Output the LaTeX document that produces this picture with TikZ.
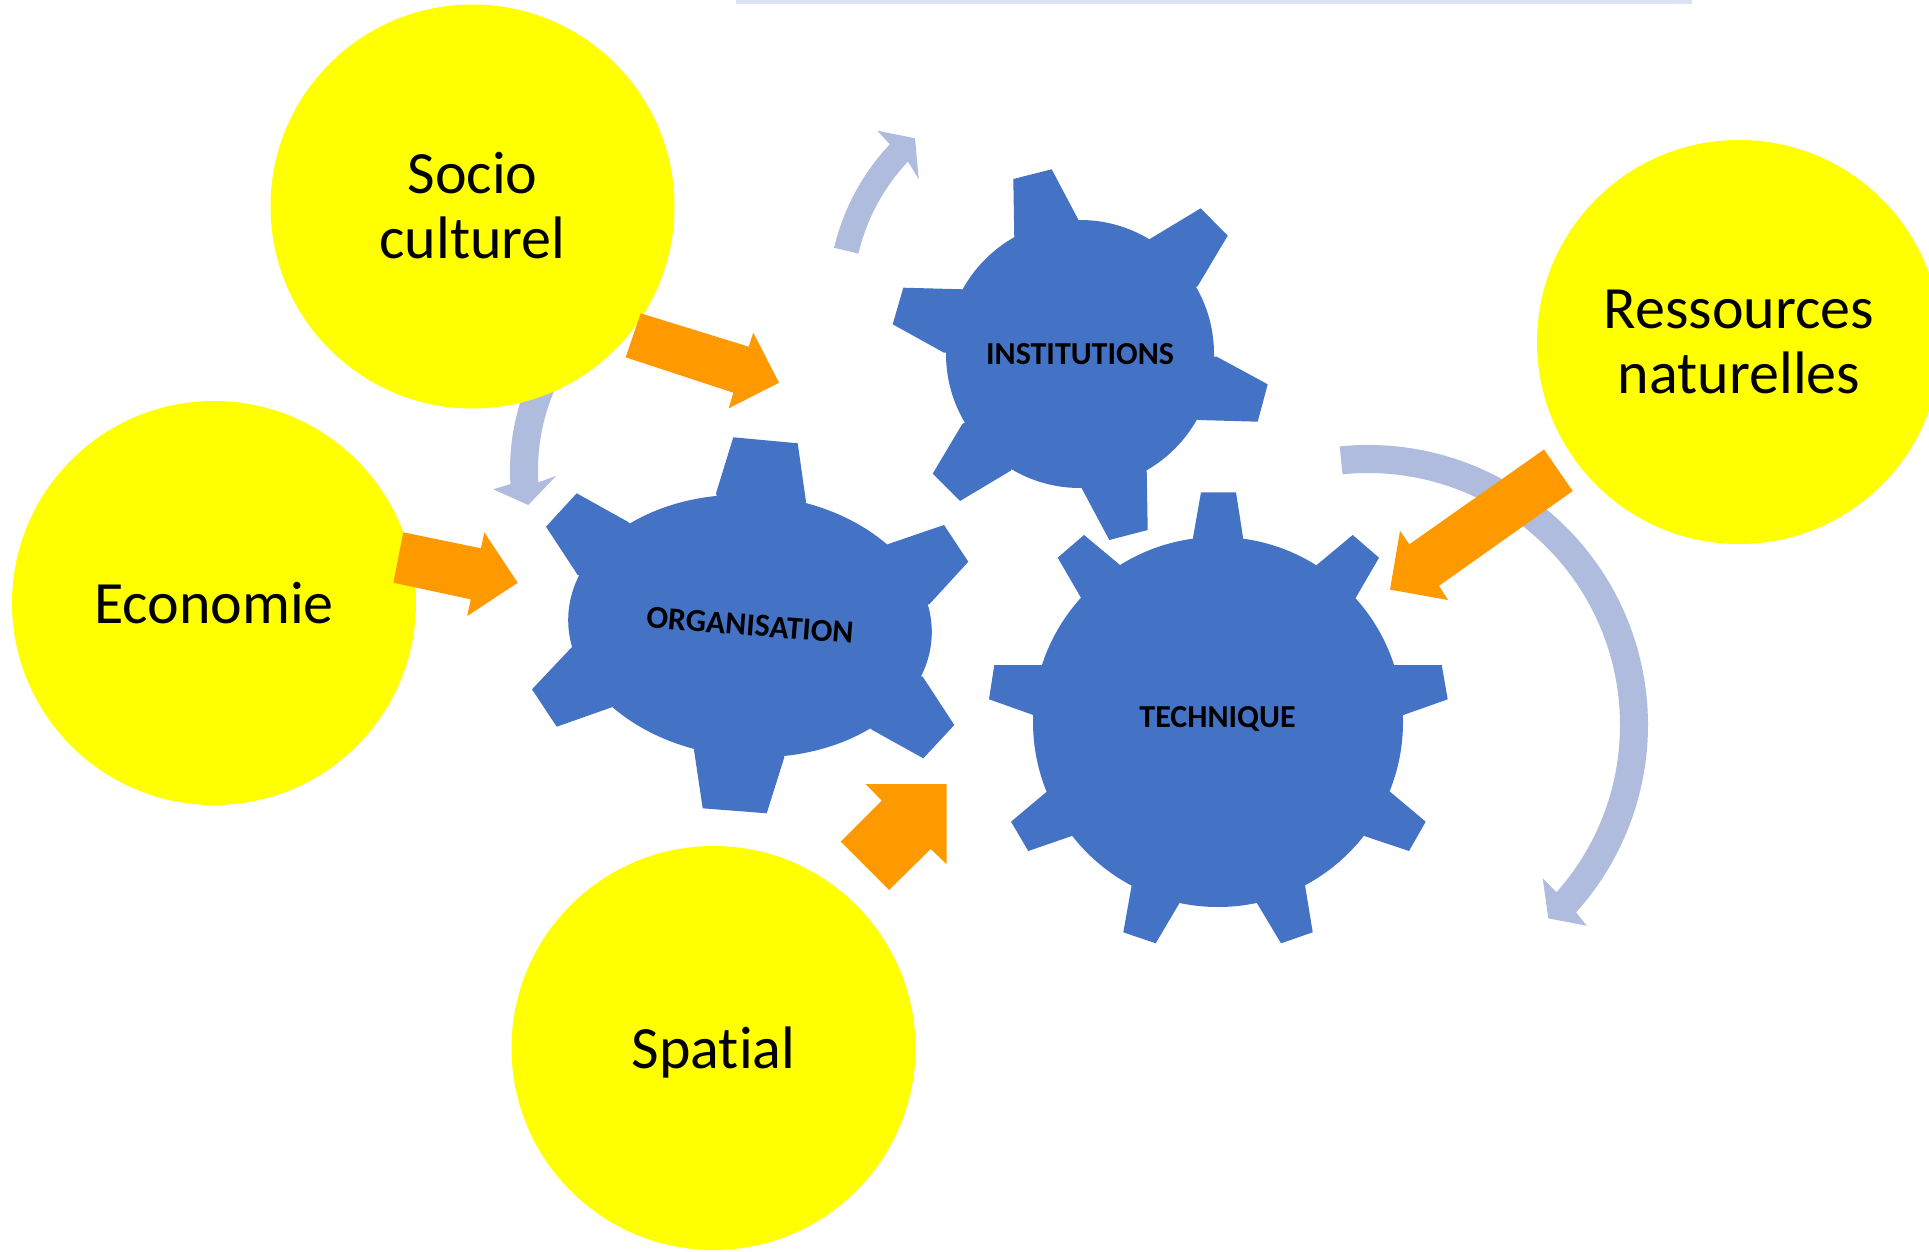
\documentclass[tikz,border=0pt]{standalone}
\usepackage{fontspec}
\setmainfont{Carlito}[Ligatures=NoCommon]
\usetikzlibrary{calc}
\definecolor{bubbleyellow}{RGB}{255,255,0}
\definecolor{arroworange}{RGB}{255,153,0}
\definecolor{gearblue}{RGB}{68,114,196}
\definecolor{cyclearc}{RGB}{175,188,222}
\definecolor{topline}{RGB}{218,227,243}
\begin{document}
\begin{tikzpicture}[x=1pt,y=-1pt,
  bubble/.style={circle,fill=bubbleyellow,minimum size=404pt,inner sep=0pt,align=center,
    text depth=0pt,font=\fontsize{60}{65}\selectfont},
  gearlabel/.style={font=\bfseries\fontsize{32}{36}\selectfont,text depth=0pt,inner sep=0pt},
  gearfill/.style={fill=gearblue},
  blockarrow/.style={fill=arroworange},
  cyclearrow/.style={fill=cyclearc}]
\useasboundingbox (0,0) rectangle (1929,1252);
\fill[white] (0,0) rectangle (1929,1252);
% top line
\fill[topline] (736,0) rectangle (1692,4);

% small cycle arrow under Socio culturel (drawn behind the circle)
\coordinate (sa) at (740,470);
\fill[cyclearrow] ($(sa)+(205:230)$) arc[start angle=205,end angle=176.5,radius=230]
  -- (493.3,489.3) -- (528.3,505) -- (556,476)
  -- ($(sa)+(176.5:202)$) arc[start angle=176.5,end angle=205,radius=202] -- cycle;

% bubbles
\node[bubble] (socio) at (472.5,206.5) {\raisebox{3pt}{Socio}\\\raisebox{3pt}{culturel}};
\node[bubble] (eco) at (214,603) {Economie};
\node[bubble] (spatial) at (713.5,1048) {Spatial};
\node[bubble] (ress) at (1739,342) {Ressources\\naturelles};

% cycle arrow near INSTITUTIONS
\coordinate (ia) at (1055,300);
\fill[cyclearrow] ($(ia)+(193.3:227)$) arc[start angle=193.3,end angle=223.3,radius=227]
  -- (877.3,130.7) -- (915,138.3) -- (918.7,179.3)
  -- ($(ia)+(223.3:202)$) arc[start angle=223.3,end angle=193.3,radius=202] -- cycle;

% large cycle arrow around TECHNIQUE
\coordinate (ta) at (1368,725);
\fill[cyclearrow] ($(ta)+(-95.8:280)$) arc[start angle=-95.8,end angle=42,radius=280]
  -- (1586.7,925.7) -- (1548.3,918.3) -- (1542.7,878.3)
  -- ($(ta)+(41.6:252)$) arc[start angle=41.6,end angle=-95.8,radius=252] -- cycle;

% ORGANISATION gear
\coordinate (oc) at (750,626);
\fill[gearfill,rotate around={-4:(oc)}] (oc) ellipse[x radius=182,y radius=131];
\fill[gearfill] (733.3,437.3) -- (797.7,443.3) -- (806,501.7) -- (oc) -- (716,493.3) -- cycle;
\fill[gearfill] (944,525) -- (968.3,561.7) -- (929.3,604.3) -- (oc) -- (888.3,544) -- cycle;
\fill[gearfill] (954.3,725) -- (923.3,758.3) -- (872.3,730) -- (oc) -- (922.7,676.7) -- cycle;
\fill[gearfill] (766.7,813.3) -- (702.7,808.3) -- (694,750) -- (oc) -- (784.3,757.3) -- cycle;
\fill[gearfill] (556.7,726.7) -- (532,689.3) -- (571.7,647.3) -- (oc) -- (611.7,707.3) -- cycle;
\fill[gearfill] (546,526.7) -- (576.7,493.3) -- (627.7,521.7) -- (oc) -- (577.7,575) -- cycle;
\node[gearlabel,rotate=-4.5] (orga) at (750,625) {ORGANISATION};

% INSTITUTIONS gear
\coordinate (ic) at (1080,354);
\fill[gearfill] (ic) circle[radius=134];
\fill[gearfill] (1013.3,179) -- (1051.7,169.3) -- (1079,221) -- (ic) -- (1014.3,239.3) -- cycle;
\fill[gearfill] (1200.7,208.3) -- (1227.7,235.7) -- (1197.7,286) -- (ic) -- (1149.3,239.3) -- cycle;
\fill[gearfill] (1267.7,384.3) -- (1257.7,421.7) -- (1198.3,420) -- (ic) -- (1216.7,356.7) -- cycle;
\fill[gearfill] (1147.7,530) -- (1109.3,540) -- (1081.7,488.3) -- (ic) -- (1146.7,471) -- cycle;
\fill[gearfill] (960,501) -- (932.7,473.7) -- (962.3,424) -- (ic) -- (1010.7,470.7) -- cycle;
\fill[gearfill] (892.7,324.3) -- (903.3,287.7) -- (962.7,289.3) -- (ic) -- (944,352.7) -- cycle;
\node[gearlabel] (inst) at (1080,354) {INSTITUTIONS};

% TECHNIQUE gear
\coordinate (tc) at (1218,722);
\fill[gearfill] (tc) circle[radius=185];
\fill[gearfill] (1201,492.3) -- (1236,492.3) -- (1243.3,539.3) -- (tc) -- (1192.7,539.3) -- cycle;
\fill[gearfill] (1352.7,535) -- (1379,557.7) -- (1356,597.3) -- (tc) -- (1316.7,565) -- cycle;
\fill[gearfill] (1441.7,665) -- (1447.7,699.3) -- (1403.3,715) -- (tc) -- (1394.3,665) -- cycle;
\fill[gearfill] (1425.7,821.7) -- (1409,851) -- (1364.3,836) -- (tc) -- (1390,791.7) -- cycle;
\fill[gearfill] (1312.7,932.3) -- (1281,943.3) -- (1256.7,902.7) -- (tc) -- (1305,885) -- cycle;
\fill[gearfill] (1155.7,943.3) -- (1123.3,932.3) -- (1131.7,885) -- (tc) -- (1179.3,903.3) -- cycle;
\fill[gearfill] (1028.3,851) -- (1011,821.7) -- (1046.7,791.7) -- (tc) -- (1071.7,836) -- cycle;
\fill[gearfill] (989,699.3) -- (994.3,665) -- (1042.7,665) -- (tc) -- (1033.3,715) -- cycle;
\fill[gearfill] (1057.7,557.7) -- (1084,535) -- (1120,565) -- (tc) -- (1080.7,597.3) -- cycle;
\node[gearlabel] (tech) at (1217.5,717) {TECHNIQUE};

% orange block arrows
\fill[blockarrow] (640.7,313.3) -- (748.7,346.7) -- (753.3,332.7) -- (779,382.7)
  -- (728.7,408.3) -- (733.3,392.7) -- (625.7,357.3) -- cycle;
\fill[blockarrow] (403.3,532.3) -- (481,548.3) -- (484.3,532.3) -- (517.7,582.7)
  -- (467.3,616) -- (470.7,599.3) -- (393.3,582.7) -- cycle;
\fill[blockarrow] (865.7,784) -- (946.7,784) -- (946.7,864.3) -- (930.7,849)
  -- (889,890) -- (840.7,841.7) -- (881.7,800.7) -- cycle;
\fill[blockarrow] (1544,449.5) -- (1572.7,491) -- (1439,585.8) -- (1448,600)
  -- (1390,589.6) -- (1400,530.8) -- (1409.3,544.3) -- cycle;
\end{tikzpicture}
\end{document}
